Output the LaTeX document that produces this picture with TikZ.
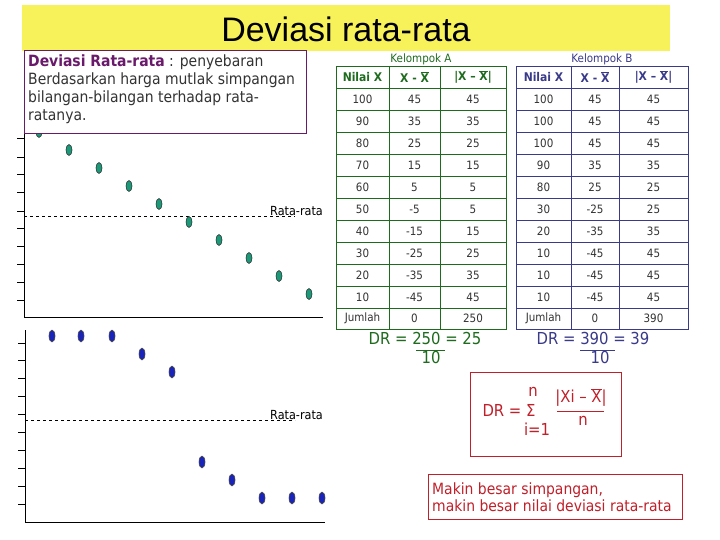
\documentclass[tikz,border=0pt]{standalone}
\usepackage{fontspec}
\setmainfont{DejaVu Sans Condensed}
\newfontfamily\titlefont{Liberation Sans}
\usetikzlibrary{shapes.geometric}
\definecolor{ygold}{HTML}{F8F25A}
\definecolor{purp}{HTML}{6A1A6A}
\definecolor{grn}{HTML}{1E6B1E}
\definecolor{blu}{HTML}{3A3A8A}
\definecolor{redc}{HTML}{C0202A}
\definecolor{dotg}{HTML}{1A9A78}
\definecolor{dotb}{HTML}{1A24B8}
\newcommand\xbar{\vbox{\hrule height .6pt\kern.8pt\hbox{X}}}
\tikzset{
 gdot/.style={ellipse,draw=black!80,fill=dotg,line width=.6pt,minimum width=6pt,minimum height=11pt,inner sep=0pt},
 bdot/.style={ellipse,draw=black!70,fill=dotb,line width=.6pt,minimum width=6pt,minimum height=12pt,inner sep=0pt},
 cell/.style={font=\fontsize{11.5}{13}\selectfont,text=black!80,inner sep=0pt},
 hcell/.style={font=\fontsize{12}{13}\selectfont\bfseries,inner sep=0pt},
 axis/.style={line width=.8pt,black},
 tick/.style={line width=.6pt,black},
 avg/.style={dashed,line width=.6pt},
 lbl/.style={font=\fontsize{12.5}{13}\selectfont,inner sep=0pt}
}
\begin{document}
\begin{tikzpicture}[x=1pt,y=-1pt]
\useasboundingbox (0,0) rectangle (720,540);
\fill[white] (0,0) rectangle (720,540);
% title
\fill[ygold] (22,5) rectangle (670,51);
\node[font=\titlefont\fontsize{34}{36}\selectfont] (title) at (346,29) {Deviasi rata-rata};
% top chart
\draw[axis] (24,62) -- (24,317) -- (323,317);
\foreach \y in {138,157,174,192,211,228,246,264,282,300} \draw[tick] (17,\y) -- (24,\y);
\draw[avg] (24,216) -- (295,216);
\node[lbl,anchor=west] (avgA) at (270,211) {Rata-rata};
\foreach \x/\y [count=\i] in {39/132,69/150,99/168,129/186,159/204,189/222,219/240,249/258,279/276,309/294}
  \node[gdot] (g\i) at (\x,\y) {};
% description box
\node[draw=purp,line width=.8pt,fill=white,anchor=north west,minimum width=282pt,minimum height=83pt,inner sep=0pt] (desc) at (24,50) {};
\node[anchor=north west,align=left,inner sep=0pt,font=\fontsize{15.5}{18}\selectfont,text=black!80] (desctext) at (28,55)
 {\textcolor{purp}{\bfseries Deviasi Rata-rata} : penyebaran\\Berdasarkan harga mutlak simpangan\\bilangan-bilangan terhadap rata-\\ratanya.};
% bottom chart
\draw[axis] (25,330) -- (25,522) -- (325,522);
\foreach \y in {343,360,378,396,414,432,450,468,486,504} \draw[tick] (18,\y) -- (25,\y);
\draw[avg] (25,420) -- (295,420);
\node[lbl,anchor=west] (avgB) at (270,415) {Rata-rata};
\foreach \x/\y [count=\i] in {52/336,81/336,112/336,142/354,172/372,202/462,232/480,262/498,292/498,322/498}
  \node[bdot] (b\i) at (\x,\y) {};
% tables
\foreach \L/\c/\xa/\xb/\xc/\xd/\rows/\tot in {
 A/grn/336/389/440/506/{100/45/45,90/35/35,80/25/25,70/15/15,60/5/5,50/-5/5,40/-15/15,30/-25/25,20/-35/35,10/-45/45}/250,
 B/blu/516/571/619/688/{100/45/45,100/45/45,100/45/45,90/35/35,80/25/25,30/-25/25,20/-35/35,10/-45/45,10/-45/45,10/-45/45}/390}{
  \draw[\c,line width=.8pt] (\xa,66) rectangle (\xd,329);
  \foreach \yy in {88,110,...,308} \draw[\c,line width=.6pt] (\xa,\yy) -- (\xd,\yy);
  \draw[\c,line width=.6pt] (\xb,66) -- (\xb,329) (\xc,66) -- (\xc,329);
  \node[cell,text=\c] (k\L) at ({(\xa+\xd)/2},59) {Kelompok \L};
  \node[hcell,text=\c] (h1\L) at ({(\xa+\xb)/2},77) {Nilai X};
  \node[hcell,text=\c] (h2\L) at ({(\xb+\xc)/2},77) {X - \xbar};
  \node[hcell,text=\c] (h3\L) at ({(\xc+\xd)/2},77) {|X – \xbar|};
  \foreach \p/\q/\r [count=\k] in \rows {
    \node[cell] (a\L\k) at ({(\xa+\xb)/2},{77+22*\k}) {\p};
    \node[cell] (d\L\k) at ({(\xb+\xc)/2},{77+22*\k}) {\q};
    \node[cell] (m\L\k) at ({(\xc+\xd)/2},{77+22*\k}) {\r};
  }
  \node[cell,text=black!80] (j1\L) at ({(\xa+\xb)/2},318) {Jumlah};
  \node[cell] (j2\L) at ({(\xb+\xc)/2},318) {0};
  \node[cell] (j3\L) at ({(\xc+\xd)/2},318) {\tot};
}
% DR results
\node[font=\fontsize{16.5}{17}\selectfont,text=grn,inner sep=0pt] (drA) at (425,338) {DR = 250 = 25};
\draw[grn,line width=.7pt] (416,350) -- (445,350);
\node[font=\fontsize{16.5}{17}\selectfont,text=grn,inner sep=0pt] (drA2) at (431,357) {10};
\node[font=\fontsize{16.5}{17}\selectfont,text=blu,inner sep=0pt] (drB) at (593,338) {DR = 390 = 39};
\draw[blu,line width=.7pt] (580,350) -- (615,350);
\node[font=\fontsize{16.5}{17}\selectfont,text=blu,inner sep=0pt] (drB2) at (600,357) {10};
% formula box
\node[draw=redc,line width=.8pt,minimum width=151pt,minimum height=84pt,inner sep=0pt] (fbox) at (545.5,414) {};
\begin{scope}[text=redc,font=\fontsize{16.5}{17}\selectfont]
\node[inner sep=0pt] (fdr) at (509,410) {DR = Σ};
\node[inner sep=0pt] (fn) at (533,392) {n};
\node[inner sep=0pt] (fi) at (537,429) {i=1};
\node[inner sep=0pt] (fnum) at (581,398) {|Xi – \xbar|};
\draw[redc,line width=.7pt] (557,411) -- (604,411);
\node[inner sep=0pt] (fden) at (583,421) {n};
\end{scope}
% conclusion box
\node[draw=redc,line width=.8pt,minimum width=254pt,minimum height=45pt,inner sep=0pt] (mbox) at (555,496.5) {};
\node[anchor=west,align=left,text=redc,font=\fontsize{15.5}{17}\selectfont,inner sep=0pt] (mtext) at (432,497) {Makin besar simpangan,\\makin besar nilai deviasi rata-rata};
\end{tikzpicture}
\end{document}
